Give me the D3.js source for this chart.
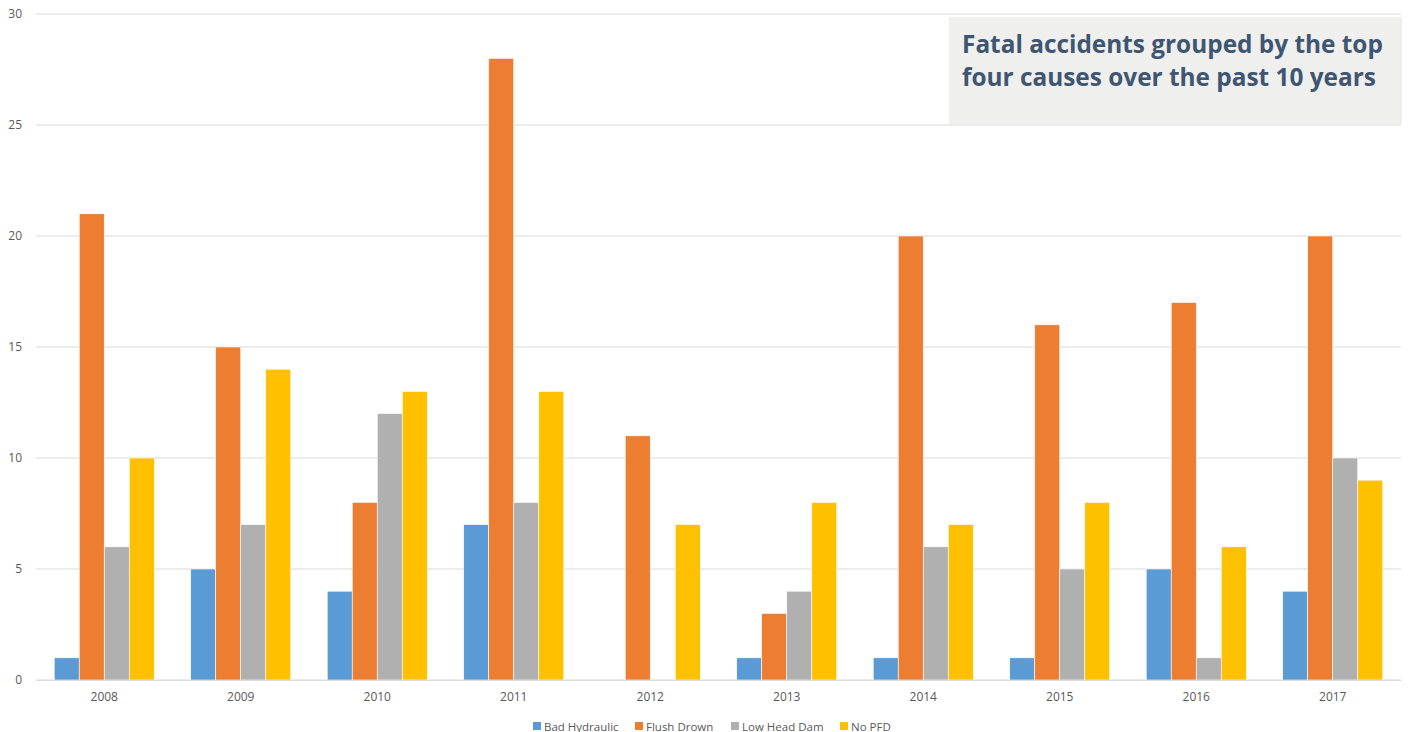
<!DOCTYPE html>
<html>
<head>
<meta charset="utf-8">
<script src="https://cdn.jsdelivr.net/npm/d3@7"></script>
<style>
  body { margin: 0; background: #fff; }
  text { font-family: "Open Sans", "Noto Sans", sans-serif; }
</style>
</head>
<body>
<script>
// =================== Data ======================
var years = ["2008", "2009", "2010", "2011", "2012", "2013", "2014", "2015", "2016", "2017"];
var causes = ["Bad Hydraulic", "Flush Drown", "Low Head Dam", "No PFD"];
var badHydraulic = [1, 5, 4, 7, 0, 1, 1, 1, 5, 4];
var flushDrown   = [21, 15, 8, 28, 11, 3, 20, 16, 17, 20];
var lowHeadDam   = [6, 7, 12, 8, 0, 4, 6, 5, 1, 10];
var noPFD        = [10, 14, 13, 13, 7, 8, 7, 8, 6, 9];
var yTicks = [0, 5, 10, 15, 20, 25, 30];
var colors = ["#5B9BD5", "#ED7D31", "#B0B0B0", "#FFC000"];
var title = ["Fatal accidents grouped by the top", "four causes over the past 10 years"];

var series = [badHydraulic, flushDrown, lowHeadDam, noPFD];
var data = years.map(function(y, i) {
  return { year: y, values: causes.map(function(c, j) { return { cause: c, value: series[j][i] }; }) };
});

// =================== Chart Prep ======================
var W = 1412, H = 732;
var margin = {top: 14, right: 11, bottom: 52, left: 36},
    width = W - margin.left - margin.right,
    height = H - margin.top - margin.bottom;

var svg = d3.select("body").append("svg")
    .attr("width", W)
    .attr("height", H);
var g = svg.append("g")
    .attr("transform", "translate(" + margin.left + "," + margin.top + ")");

var x0 = d3.scaleBand().domain(years).range([0, width]).paddingInner(0.267).paddingOuter(0.1335);
var x1 = d3.scaleBand().domain(causes).range([0, x0.bandwidth()]);
var y = d3.scaleLinear().domain([0, 30]).range([height, 0]);

// gridlines
g.append("g").selectAll("line")
  .data(yTicks)
  .enter().append("line")
    .attr("x1", 0).attr("x2", width)
    .attr("y1", function(d) { return y(d); })
    .attr("y2", function(d) { return y(d); })
    .attr("stroke", "#d9d9d9")
    .attr("stroke-width", 1);

// y axis labels
var yAxis = g.append("g")
    .call(d3.axisLeft(y).tickValues(yTicks).tickSize(0).tickPadding(14));
yAxis.select(".domain").remove();
yAxis.selectAll("text")
    .attr("fill", "#595959")
    .style("font-size", "12px")
    .style("font-family", "'Open Sans', sans-serif");

// bars
var groups = g.selectAll(".grp")
  .data(data)
  .enter().append("g")
    .attr("transform", function(d) { return "translate(" + x0(d.year) + ",0)"; });

groups.selectAll("rect")
  .data(function(d) { return d.values; })
  .enter().append("rect")
    .attr("x", function(d) { return x1(d.cause); })
    .attr("width", x1.bandwidth())
    .attr("y", function(d) { return y(d.value); })
    .attr("height", function(d) { return height - y(d.value); })
    .attr("fill", function(d, i) { return colors[i]; })
    .attr("stroke", "#fff")
    .attr("stroke-width", 0.6);

// x axis
var xAxis = g.append("g")
    .attr("transform", "translate(0," + height + ")")
    .call(d3.axisBottom(x0).tickSize(0).tickPadding(12));
xAxis.select(".domain").attr("stroke", "#d9d9d9");
xAxis.selectAll("text")
    .attr("fill", "#595959")
    .style("font-size", "12px")
    .style("font-family", "'Open Sans', sans-serif");

// legend
var legend = svg.append("g").attr("transform", "translate(0,726)");
var legX = [533, 635, 731, 840];
causes.forEach(function(c, i) {
  legend.append("rect")
    .attr("x", legX[i]).attr("y", -4)
    .attr("width", 8).attr("height", 8)
    .attr("fill", colors[i]);
  legend.append("text")
    .attr("x", legX[i] + 11).attr("y", 4.5)
    .attr("fill", "#595959")
    .style("font-size", "11.5px")
    .text(c);
});

// title box
svg.append("rect")
    .attr("x", 949).attr("y", 17)
    .attr("width", 453).attr("height", 107)
    .attr("fill", "#efefee");
var tt = svg.append("g");
title.forEach(function(t, i) {
  tt.append("text")
    .attr("x", 962)
    .attr("y", 53 + i * 33)
    .attr("fill", "#3F5672")
    .style("font-size", "25px")
    .style("font-weight", "bold")
    .style("font-family", "'Open Sans', sans-serif")
    .text(t);
});
// shrink title to width of reference
var tw = tt.select("text").node().getComputedTextLength();
var fs = 25 * 421 / tw;
tt.selectAll("text").style("font-size", fs + "px");
</script>
</body>
</html>
